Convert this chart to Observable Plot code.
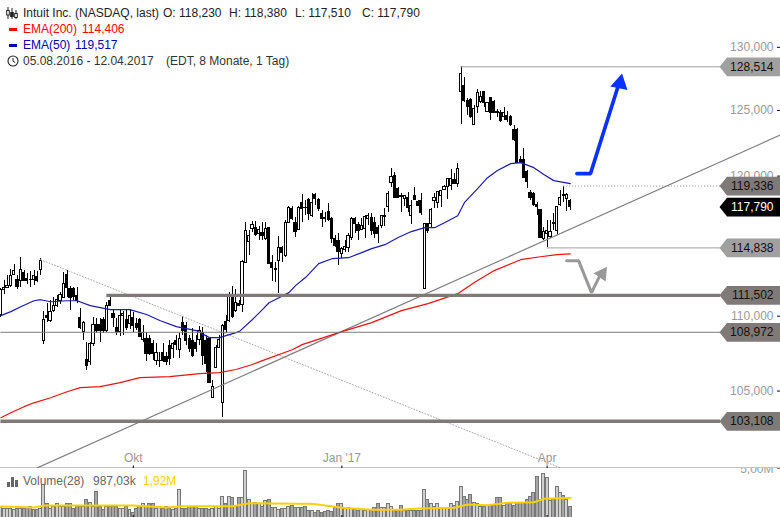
<!DOCTYPE html>
<html><head><meta charset="utf-8">
<script src="https://cdn.jsdelivr.net/npm/d3@7"></script>
<script src="https://cdn.jsdelivr.net/npm/@observablehq/plot@0.6"></script>
<style>
html,body{margin:0;padding:0;background:#fff;overflow:hidden}
#page{position:relative;width:780px;height:517px;overflow:hidden;font:12px "Liberation Sans",Arial,sans-serif}
#page svg{display:block}
.t{position:absolute;white-space:pre;line-height:14px;height:14px}
</style></head><body><div id="page"><div id="charts"></div>
<svg style="position:absolute;left:6px;top:7px" width="12" height="12" viewBox="0 0 12 12"><g fill="none" stroke="#222"><path d="M2 0v12M6 1v11M10 3v9"/><rect x="0.7" y="3.5" width="2.6" height="4.5" fill="#fff"/><rect x="4.7" y="5.5" width="2.6" height="4" fill="#222"/><rect x="8.7" y="6.5" width="2.6" height="4" fill="#fff"/></g></svg>
<div class="t" style="left:23px;top:6px;color:#222">Intuit Inc. (NASDAQ, last)</div>
<div class="t" style="left:163px;top:6px;color:#222">O: 118,230</div>
<div class="t" style="left:229px;top:6px;color:#222">H: 118,380</div>
<div class="t" style="left:295px;top:6px;color:#222">L: 117,510</div>
<div class="t" style="left:362px;top:6px;color:#222">C: 117,790</div>
<svg style="position:absolute;left:9px;top:28px" width="8" height="3"><rect width="8" height="3" fill="#f00"/></svg>
<div class="t" style="left:23px;top:22px;color:#f00">EMA(200)</div>
<div class="t" style="left:82px;top:22px;color:#f00">114,406</div>
<svg style="position:absolute;left:9px;top:44px" width="8" height="3"><rect width="8" height="3" fill="#0000b4"/></svg>
<div class="t" style="left:23px;top:38px;color:#0000b4">EMA(50)</div>
<div class="t" style="left:75px;top:38px;color:#0000b4">119,517</div>
<svg style="position:absolute;left:7px;top:55px" width="12" height="12" viewBox="0 0 12 12"><circle cx="6" cy="6" r="5" fill="none" stroke="#222" stroke-width="1.1"/><path d="M6 3v3.2l2.2 1.3" fill="none" stroke="#222"/></svg>
<div class="t" style="left:23px;top:54px;color:#333">05.08.2016 - 12.04.2017</div>
<div class="t" style="left:166px;top:54px;color:#333">(EDT, 8 Monate, 1 Tag)</div>
<svg style="position:absolute;left:7px;top:477px" width="11" height="10"><rect y="5" width="3" height="5" fill="#666"/><rect x="4" width="3" height="10" fill="#666"/><rect x="8" y="3" width="3" height="7" fill="#666"/></svg>
<div class="t" style="left:23px;top:474px;color:#666">Volume(28)</div>
<div class="t" style="left:93px;top:474px;color:#666">987,03k</div>
<div class="t" style="left:143px;top:474px;color:#ffd000">1,92M</div>
</div>
<script>
const opens=[110.18,111.9,112.04,112.18,112.95,112.6,112.53,113.09,112.67,112.6,
112.6,112.81,113.3,108.41,110.11,109.77,110.45,110.79,111.13,111.34,
112.95,111.97,111.97,111.48,109.91,109.02,107.14,107.0,108.2,109.5,
109.5,109.84,109.09,111.13,110.24,109.29,109.02,110.11,109.84,109.56,
109.97,109.56,109.84,108.48,108.54,108.54,108.2,107.07,107.03,107.6,
107.33,108.07,107.87,108.41,107.8,109.63,109.43,108.54,108.41,108.27,
108.48,108.95,108.41,108.54,104.63,106.61,107.93,104.3,109.7,109.77,
111.48,110.45,110.93,110.86,113.79,115.29,116.22,116.29,115.86,115.94,
115.5,116.29,113.79,113.3,113.93,114.86,114.28,116.65,117.68,116.65,
116.15,118.11,117.75,118.33,117.16,118.7,118.33,117.31,116.98,117.46,
116.94,115.5,115.36,114.43,114.71,114.86,115.58,116.94,116.51,116.15,
116.22,116.94,117.02,116.65,116.29,116.44,117.09,117.82,119.59,120.11,
119.15,118.58,118.41,118.48,117.16,118.63,118.19,118.26,111.97,116.58,
116.58,118.26,118.11,118.63,119.07,119.3,119.37,119.82,119.52,126.48,
127.03,125.85,125.93,123.98,125.38,125.7,126.48,124.99,126.01,125.77,
124.99,124.91,124.6,124.68,124.53,123.6,123.6,121.31,121.31,120.41,
118.85,118.78,117.97,117.6,115.5,115.86,115.65,116.65,116.08,117.97,
118.66,118.41,118.23];
const highs=[112.0,112.53,112.88,113.3,113.65,112.88,114.14,113.23,113.02,113.16,
113.23,113.16,114.07,110.38,110.93,111.13,111.34,111.48,111.69,113.09,
113.23,112.11,112.04,112.04,110.58,109.7,108.27,108.27,109.97,109.91,
109.91,109.97,110.99,111.48,110.52,109.91,110.52,110.38,110.45,110.45,
110.31,109.91,109.91,109.43,108.95,108.75,108.41,108.2,107.6,108.2,
107.6,108.41,108.27,108.75,108.89,110.04,109.63,108.75,109.23,108.75,
109.36,109.29,108.75,108.6,105.75,108.07,108.75,109.5,110.11,111.69,
112.11,111.9,111.13,113.93,116.65,116.08,116.72,116.72,116.37,116.65,
116.65,116.3,114.28,113.79,115.65,114.93,116.8,117.82,117.82,117.02,
117.82,118.7,118.26,118.41,118.78,118.78,118.41,117.53,117.38,118.04,
117.02,115.72,115.86,114.86,115.36,115.86,117.02,117.02,116.65,116.94,
117.16,117.31,117.31,117.02,116.44,117.2,117.68,118.93,120.64,120.34,
119.22,118.78,118.66,118.85,118.26,119.22,118.26,118.78,116.6,116.6,
117.65,118.78,118.96,119.03,119.37,119.92,120.56,120.26,121.01,128.51,
127.67,126.01,126.01,125.46,126.72,126.56,126.56,125.7,126.09,125.85,
125.15,125.07,125.3,124.99,124.68,123.9,123.67,121.54,122.14,120.49,
119.0,118.85,118.11,117.64,116.29,116.8,116.8,117.31,117.85,119.0,
119.34,118.78,118.38];
const lows=[110.0,111.55,111.97,112.04,112.88,111.9,112.04,112.46,112.25,112.04,
112.18,112.39,112.88,108.14,109.63,109.63,110.31,110.65,110.86,111.27,
111.34,110.45,111.13,110.93,109.16,108.4,106.41,106.74,108.0,108.89,
108.27,108.89,108.95,110.72,109.29,108.75,108.68,108.75,109.09,109.16,
108.95,109.09,108.61,108.27,107.0,107.4,107.07,106.74,106.61,106.94,
106.74,106.74,107.2,107.73,107.2,108.75,108.07,107.6,107.27,107.6,
108.07,106.74,106.28,105.55,104.56,106.54,107.87,103.34,108.89,109.63,
109.91,110.31,110.72,110.31,113.79,114.28,115.94,115.65,115.36,115.36,
115.36,113.65,112.46,112.39,111.62,113.79,114.14,116.58,116.8,115.58,
116.08,116.65,117.16,116.8,117.02,117.89,117.46,116.29,116.65,116.72,
115.14,114.86,113.58,114.07,114.5,114.5,115.36,115.86,115.36,116.08,
115.5,116.44,115.72,115.5,115.14,116.22,116.37,117.38,119.22,118.41,
118.41,117.38,117.82,117.38,116.51,118.26,117.85,117.16,111.9,115.86,
116.22,117.68,117.68,117.75,119.0,118.33,119.0,119.49,119.22,123.98,
125.7,124.68,124.45,123.96,124.84,125.62,125.3,124.91,124.29,124.84,
124.53,124.14,124.29,124.14,123.82,122.67,121.01,121.01,119.89,119.15,
118.26,117.82,117.16,115.54,115.36,114.84,115.5,116.08,115.72,117.82,
118.11,117.46,117.51];
const closes=[111.9,112.04,112.18,112.88,113.23,112.11,113.3,112.53,112.53,112.56,
112.88,112.53,113.93,109.84,109.97,110.38,110.79,111.2,111.55,112.32,
112.04,111.34,111.41,111.13,109.29,109.63,106.74,108.2,109.5,109.09,
109.09,109.09,110.79,110.79,109.91,109.02,110.11,110.24,109.29,110.11,
109.43,109.23,108.68,108.95,107.53,107.53,107.53,107.6,107.07,107.07,
107.0,107.2,108.2,108.14,108.54,109.09,108.41,107.87,107.4,107.87,
109.09,107.4,106.87,105.62,105.35,107.93,108.48,109.43,109.16,111.48,
110.04,110.99,110.79,113.86,116.08,115.72,116.51,115.79,116.15,115.72,
116.22,113.72,113.44,113.33,114.86,114.5,116.65,117.75,116.94,116.01,
117.75,117.68,117.72,117.31,118.11,118.41,117.68,116.94,116.94,116.87,
115.5,115.0,114.57,114.79,114.93,115.72,116.94,116.58,116.08,116.44,
117.09,117.16,116.08,115.86,115.86,117.16,117.16,118.78,120.04,118.48,
118.48,118.55,118.63,117.75,117.89,118.33,117.89,117.38,116.58,116.08,
117.6,118.48,118.93,119.0,119.3,119.89,119.89,119.52,120.64,127.98,
125.85,125.38,124.6,125.22,126.41,126.09,125.62,125.62,124.84,124.91,
124.84,124.29,124.91,124.37,123.98,122.83,121.09,121.09,119.96,119.67,
118.48,117.97,117.82,115.58,116.01,116.08,116.01,116.58,117.82,118.48,
118.63,118.7,117.79];
const volumes=[.93,.82,.82,.82,.72,.82,.82,.82,.88,.93,
.72,.66,.82,3.2,1.24,.82,.93,1.24,.93,.93,
1.24,1.24,.82,.93,.93,.93,1.65,1.44,.99,2.5,
.93,.72,1.03,1.03,1.03,.93,.82,.82,1.03,.72,
.41,.82,.93,1.24,1.03,1.24,1.24,.82,1.03,.82,
.93,.82,.72,.82,2.78,.82,.82,.93,1.03,.93,
.82,.82,.82,.72,.82,1.03,.82,1.96,1.34,2.06,
1.86,1.03,1.86,1.86,4.74,1.75,1.34,1.44,1.34,.96,
1.55,1.65,.9,.9,.72,.78,.78,1.0,1.13,.85,
.9,.85,1.0,.6,.6,.35,.6,.35,.5,.6,
.5,.9,1.3,1.3,.8,.9,.8,.7,.6,.7,
.6,.7,.6,.9,1.3,.9,.9,1.3,1.0,.6,
.6,1.1,.6,.6,.6,.6,.6,.6,2.75,1.65,
1.25,1.0,1.25,.9,.9,.9,1.3,1.1,1.45,3.0,
2.0,1.75,2.25,1.4,1.3,1.0,1.0,1.05,1.05,1.1,
1.9,1.9,1.13,1.24,1.34,1.13,1.44,1.44,1.44,1.65,
2.06,2.47,4.12,1.75,4.33,4.02,1.55,1.65,2.99,2.47,
2.16,1.65,.987];

const ema50Idx=[0,3,6,10,12,15,20,23,27,33,39,44,48,53,59,63,66,72,76,79,81,84,87,89,92,96,100,105,109,112,116,120,124,128,131,134,138,140,144,147,150,154,157,161,164,167,172];
const ema50Val=[110.11,110.38,110.72,111.13,111.2,111.06,111.13,111.13,110.79,110.52,110.52,110.18,109.77,109.36,109.09,108.61,108.61,109.02,109.84,110.52,110.99,111.34,111.69,112.18,112.74,113.72,114.07,114.14,114.5,114.79,115.07,115.58,116.01,116.29,116.29,116.65,117.16,118.11,119.15,119.96,120.49,121.01,121.09,120.71,120.19,119.74,119.52];
const ema200Idx=[0,3,7,10,15,20,24,30,36,42,51,60,66,71,76,79,88,91,103,112,121,129,138,143,149,157,163,168,172];
const ema200Val=[103.34,103.66,104.05,104.3,104.63,105.02,105.29,105.35,105.62,105.95,106.01,106.21,106.28,106.48,106.81,107.07,107.8,108.14,109.02,109.63,110.45,110.93,111.62,112.39,113.23,114.0,114.21,114.36,114.41];
const volMaIdx=[0,10,13,40,50,55,70,75,90,94,103,112,121,126,137,141,147,153,161,164,172];
const volMaVal=[1.03,.93,1.13,1.13,.93,1.06,1.06,1.37,1.31,1.31,.9,.69,.69,.82,.9,1.24,1.16,1.41,1.47,1.82,1.92];

const supportLine={i:[11,235.6],v:[100.17,123.2]};
const downLine={i:[12,169],v:[114.0,100.17]};
const levelThin=[108.972];
const levelThinStart=[0];
const levelLight=[128.514,114.838];
const levelLightStart=[139,165];
const levelThick=[111.502,103.108];
const levelThickStart=[32,0];
const levelDotted=[119.336];
const levelDottedStart=[170];
const lastClose=[117.79];
const yTicks=[130,125,120,110,105];
const xTickIdx=[40,103,165];
const xTickLabels=["Okt","Jan '17","Apr"];
const blueArrowI=[174,178.1,186.6], blueArrowV=[120.26,120.26,127.1];
const blueHead={i:[187],v:[127.2]};
const grayArrowI=[170.9,174.5,178.4,181.1], grayArrowV=[113.93,113.93,111.69,112.95];
const grayHead={i:[181.6],v:[113.0]};

const candles=opens.map((o,i)=>({i,o,h:highs[i],l:lows[i],c:closes[i],up:closes[i]>=o,v:volumes[i]}));
const pts=(I,V)=>I.map((i,k)=>({i,v:V[k]}));
const xEnd=235.5, xLabel=217.4, W=780, H=468;
const fmt=d3.format(".3f"), comma=s=>s.replace(".",",");
const tagSym={draw(c){c.moveTo(-61,0);c.lineTo(-53.5,-9.4);c.lineTo(0,-9.4);c.lineTo(0,9.4);c.lineTo(-53.5,9.4);c.closePath();}};
const tagGray="#a0a0a0", tagDark="#7f7a78", txtGray="#999";
const font='"Liberation Sans",Arial,sans-serif';
const crisp={shapeRendering:"crispEdges"};

const tag=(vals,fill)=>Plot.dot(vals,{x:()=>xEnd,y:d=>d,symbol:tagSym,fill,stroke:"none",r:5});
const tagText=(vals,fill)=>Plot.text(vals,{x:()=>xEnd,y:d=>d,text:d=>comma(fmt(d)),dx:-7,textAnchor:"end",fill,fontSize:12});

const main=Plot.plot({
  width:W,height:H,margin:0,
  style:{fontFamily:font,fontSize:"12px",background:"transparent",overflow:"hidden"},
  x:{type:"linear",domain:[0,xEnd],range:[0.4,W],axis:null},
  y:{type:"log",domain:[100.16,133.92],range:[467.5,0],axis:null},
  marks:[
    Plot.ruleY([100.16],{stroke:"#888",strokeWidth:1}),
    Plot.ruleX(xTickIdx,{x:d=>d,stroke:"#000",insetTop:H-2.5}),
    Plot.text(xTickIdx,{x:d=>d,text:(d,k)=>xTickLabels[k],frameAnchor:"bottom",dy:-10,fill:txtGray,fontSize:12,lineAnchor:"middle"}),
    Plot.text(yTicks,{x:()=>xEnd,y:d=>d,text:d=>d3.format(".3f")(d).replace(".",","),dx:-7,dy:-1,textAnchor:"end",fill:txtGray,fontSize:12}),
    Plot.ruleY(yTicks,{x1:()=>234.6,x2:()=>xEnd,y:d=>d,dy:-1,stroke:"#000"}),
    Plot.ruleX(candles,{x:"i",y1:"l",y2:"h",stroke:"#000",strokeWidth:1,...crisp}),
    Plot.rect(candles,{filter:d=>d.up,x1:d=>d.i-.33,x2:d=>d.i+.33,y1:"o",y2:"c",fill:"#fff",stroke:"#000",strokeWidth:1,...crisp}),
    Plot.rect(candles,{filter:d=>!d.up,x1:d=>d.i-.33,x2:d=>d.i+.33,y1:"o",y2:"c",fill:"#000",stroke:"#000",strokeWidth:1,...crisp}),
    Plot.line(pts(downLine.i,downLine.v),{x:"i",y:"v",stroke:"#aaa",strokeWidth:1,strokeDasharray:"1,2"}),
    Plot.line(pts(supportLine.i,supportLine.v),{x:"i",y:"v",stroke:"#7f7f7f",strokeWidth:1.2}),
    Plot.line(pts(ema200Idx,ema200Val),{x:"i",y:"v",stroke:"#f01010",strokeWidth:1.2}),
    Plot.line(pts(ema50Idx,ema50Val),{x:"i",y:"v",stroke:"#1a1ab4",strokeWidth:1.2}),
    Plot.ruleY(levelThin,{x1:(d,k)=>levelThinStart[k],x2:()=>xLabel,y:d=>d,stroke:tagDark,strokeWidth:1}),
    Plot.ruleY(levelLight,{x1:(d,k)=>levelLightStart[k],x2:()=>xLabel,y:d=>d,stroke:tagGray,strokeWidth:1}),
    Plot.ruleY(levelThick,{x1:(d,k)=>levelThickStart[k],x2:()=>xLabel,y:d=>d,stroke:tagDark,strokeWidth:3.4}),
    Plot.ruleY(levelDotted,{x1:(d,k)=>levelDottedStart[k],x2:()=>xLabel,y:d=>d,stroke:"#888",strokeWidth:1,strokeDasharray:"1,2"}),
    Plot.line(pts(blueArrowI,blueArrowV),{x:"i",y:"v",stroke:"#0a32ff",strokeWidth:3.6,strokeLinejoin:"miter"}),
    Plot.dot(pts(blueHead.i,blueHead.v),{x:"i",y:"v",symbol:"triangle",r:6.5,fill:"#0a32ff",stroke:"none",rotate:12}),
    Plot.line(pts(grayArrowI,grayArrowV),{x:"i",y:"v",stroke:"#999",strokeWidth:3,strokeLinejoin:"miter"}),
    Plot.dot(pts(grayHead.i,grayHead.v),{x:"i",y:"v",symbol:"triangle",r:5.5,fill:"#999",stroke:"none",rotate:35}),
    tag(levelLight,tagGray),
    tag([...levelDotted,...levelThick,...levelThin],tagDark),
    tag(lastClose,"#000"),
    tagText([...levelLight,...levelDotted,...levelThick,...levelThin],"#111"),
    tagText(lastClose,"#fff")
  ]
});

const vol=Plot.plot({
  width:W,height:49,margin:0,
  style:{fontFamily:font,fontSize:"12px",background:"transparent",overflow:"hidden"},
  x:{type:"linear",domain:[0,xEnd],range:[0.4,W],axis:null},
  y:{domain:[0,5],range:[48,-0.5],axis:null},
  marks:[
    Plot.rectY(candles,{filter:d=>d.up,x1:d=>d.i-.45,x2:d=>d.i+.45,y1:()=>-.2,y2:"v",fill:"#cfcfcf",stroke:"#777",strokeWidth:1,...crisp}),
    Plot.rectY(candles,{filter:d=>!d.up,x1:d=>d.i-.45,x2:d=>d.i+.45,y1:()=>-.2,y2:"v",fill:"#a6a6a6",stroke:"#777",strokeWidth:1,...crisp}),
    Plot.line(pts(volMaIdx,volMaVal),{x:"i",y:"v",stroke:"#ffd000",strokeWidth:2}),
    Plot.ruleX(xTickIdx,{x:d=>d,stroke:"#000",insetTop:47}),
    Plot.text([5],{x:()=>xEnd,y:d=>d,text:()=>"5,00M",dx:-7,dy:1,textAnchor:"end",fill:txtGray,fontSize:12}),
    Plot.ruleY([5],{x1:()=>234.6,x2:()=>xEnd,y:d=>d,stroke:"#000"})
  ]
});
document.getElementById("charts").append(main,vol);
</script></body></html>
